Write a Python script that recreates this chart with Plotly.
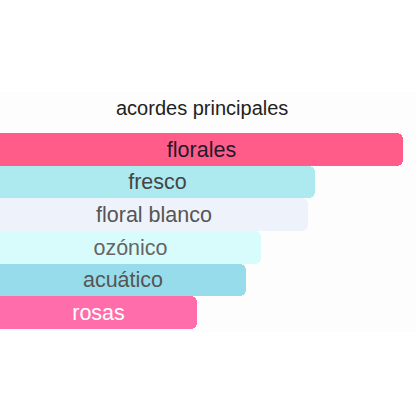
import plotly.graph_objects as go

categories = ["florales", "fresco", "floral blanco", "ozónico", "acuático", "rosas"]
values = [100, 78.3, 76.4, 64.7, 61.0, 48.8]
bar_colors = ["#FF5C8A", "#ADEAF0", "#EEF3FB", "#D8FCFC", "#97DCEA", "#FF6EAA"]
text_colors = ["#1e1a2a", "#444444", "#555555", "#666666", "#555555", "#FFFFFF"]
title_text = "acordes principales"

fig = go.Figure(
    go.Bar(
        x=values,
        y=categories,
        orientation="h",
        marker=dict(color=bar_colors, line=dict(width=0)),
        text=categories,
        textposition="inside",
        insidetextanchor="middle",
        textfont=dict(color=text_colors, size=21.5, family="Liberation Sans, Arial, sans-serif"),
        hoverinfo="skip",
        cliponaxis=False,
    )
)

unit = 32.7
fig.update_layout(
    width=416,
    height=416,
    margin=dict(l=0, r=0, t=92, b=84, pad=0),
    paper_bgcolor="#FFFFFF",
    plot_bgcolor="#FDFDFD",
    bargap=0,
    barcornerradius=6,
    showlegend=False,
    font=dict(family="Liberation Sans, Arial, sans-serif"),
    xaxis=dict(range=[0, 100 * 416 / 402.7], visible=False, fixedrange=True),
    yaxis=dict(
        type="category",
        categoryorder="array",
        categoryarray=categories,
        range=[5.5 + 3 / unit, -0.5 - 41 / unit],
        visible=False,
        fixedrange=True,
    ),
    annotations=[
        dict(
            text=title_text,
            xref="paper",
            yref="paper",
            x=202 / 416,
            y=1 - (108 - 92) / 240,
            xanchor="center",
            yanchor="middle",
            showarrow=False,
            font=dict(size=20, color="#222222", family="Liberation Sans, Arial, sans-serif"),
        )
    ],
)

fig.write_html(
    "out.html",
    config={"displayModeBar": False},
    post_script="document.body.style.margin='0';document.body.style.overflow='hidden';",
)
